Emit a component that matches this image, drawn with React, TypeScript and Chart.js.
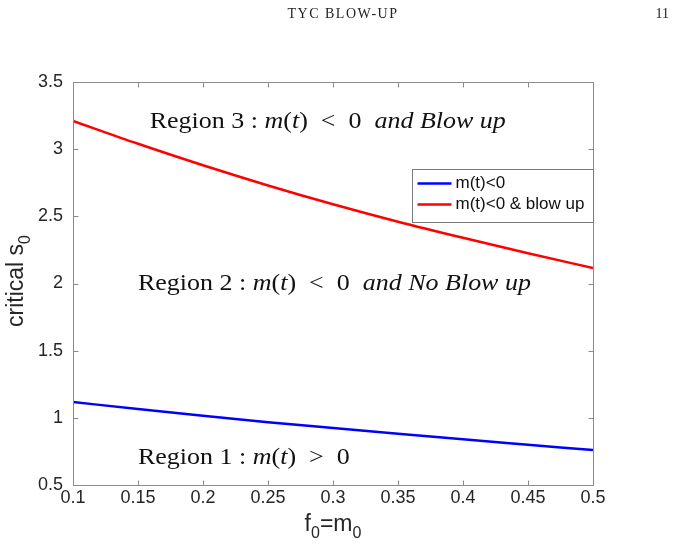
import React, { useEffect, useRef } from "react";
import { Chart, registerables } from "chart.js";

Chart.register(...registerables);

// Initial mass f0 = m0 sampled along the x axis
const f0Values = [0.1, 0.15, 0.2, 0.25, 0.3, 0.35, 0.4, 0.45, 0.5];
// Critical s0 above which m(t) becomes negative
const criticalNegative = [1.118, 1.065, 1.015, 0.968, 0.924, 0.881, 0.84, 0.8, 0.76];
// Critical s0 above which m(t) < 0 and the solution blows up
const criticalBlowUp = [3.21, 3.04, 2.88, 2.73, 2.59, 2.46, 2.34, 2.225, 2.115];

const xTicks = [0.1, 0.15, 0.2, 0.25, 0.3, 0.35, 0.4, 0.45, 0.5];
const yTicks = [0.5, 1, 1.5, 2, 2.5, 3, 3.5];

const seriesLabels = ["m(t)<0", "m(t)<0 & blow up"];
const seriesColors = ["#0000ff", "#ff0000"];

const runningHead = "TYC BLOW-UP";
const pageNumber = "11";

// Region annotations: anchor in data units, text as roman (r) / italic (i) runs
type Run = [string, "r" | "i"];
const regionLabels: { x: number; y: number; runs: Run[] }[] = [
  {
    x: 0.159,
    y: 3.2,
    runs: [["Region 3 : ", "r"], ["m", "i"], ["(", "r"], ["t", "i"], [")  <  0  ", "r"], ["and Blow up", "i"]],
  },
  {
    x: 0.15,
    y: 2.0,
    runs: [["Region 2 : ", "r"], ["m", "i"], ["(", "r"], ["t", "i"], [")  <  0  ", "r"], ["and No Blow up", "i"]],
  },
  {
    x: 0.15,
    y: 0.7,
    runs: [["Region 1 : ", "r"], ["m", "i"], ["(", "r"], ["t", "i"], [")  >  0", "r"]],
  },
];

const SANS = '"Liberation Sans", Arial, Helvetica, sans-serif';
const SERIF = '"Liberation Serif", "Times New Roman", serif';
const AXIS_GREY = "#8c8c8c";
const TEXT_DARK = "#262626";

// Serif annotation with mixed upright / italic runs, widened to a TeX-like set width
function drawRuns(ctx: CanvasRenderingContext2D, runs: Run[], x: number, y: number, size: number, stretch: number) {
  ctx.save();
  ctx.translate(x, y);
  ctx.scale(stretch, 1);
  let cx = 0;
  ctx.textAlign = "left";
  ctx.textBaseline = "middle";
  ctx.fillStyle = "#111";
  for (const [text, style] of runs) {
    ctx.font = `${style === "i" ? "italic " : ""}${size}px ${SERIF}`;
    ctx.fillText(text, cx, 0);
    cx += ctx.measureText(text).width;
  }
  ctx.restore();
}

// Centered text with lowered subscripts
function subText(
  ctx: CanvasRenderingContext2D,
  parts: [string, boolean][],
  cx: number,
  baseline: number,
  size: number,
  subSize: number,
  subDrop: number
) {
  const widths = parts.map(([t, sub]) => {
    ctx.font = `${sub ? subSize : size}px ${SANS}`;
    return ctx.measureText(t).width;
  });
  const total = widths.reduce((a, b) => a + b, 0);
  let x = cx - total / 2;
  ctx.textAlign = "left";
  ctx.textBaseline = "alphabetic";
  parts.forEach(([t, sub], i) => {
    ctx.font = `${sub ? subSize : size}px ${SANS}`;
    ctx.fillText(t, x, baseline + (sub ? subDrop : 0));
    x += widths[i];
  });
}

const decorations = {
  id: "decorations",
  afterDraw(chart: any) {
    const { ctx, chartArea: a, scales } = chart;
    const xs = scales.x;
    const ys = scales.y;
    ctx.save();

    // running head
    ctx.fillStyle = "#222";
    ctx.font = `14px ${SERIF}`;
    (ctx as any).letterSpacing = "1.5px";
    ctx.textAlign = "center";
    ctx.textBaseline = "alphabetic";
    ctx.fillText(runningHead, 343, 18);
    (ctx as any).letterSpacing = "0px";
    ctx.textAlign = "right";
    ctx.fillText(pageNumber, 669, 18);

    // axes box
    const L = Math.round(a.left) + 0.5;
    const R = Math.round(a.right) + 0.5;
    const T = Math.round(a.top) + 0.5;
    const B = Math.round(a.bottom) + 0.5;
    ctx.strokeStyle = AXIS_GREY;
    ctx.lineWidth = 1;
    ctx.strokeRect(L, T, R - L, B - T);

    // inward tick marks on all four sides
    const tl = 5;
    ctx.beginPath();
    for (const v of xTicks) {
      const px = Math.round(xs.getPixelForValue(v)) + 0.5;
      ctx.moveTo(px, B);
      ctx.lineTo(px, B - tl);
      ctx.moveTo(px, T);
      ctx.lineTo(px, T + tl);
    }
    for (const v of yTicks) {
      const py = Math.round(ys.getPixelForValue(v)) + 0.5;
      ctx.moveTo(L, py);
      ctx.lineTo(L + tl, py);
      ctx.moveTo(R, py);
      ctx.lineTo(R - tl, py);
    }
    ctx.stroke();

    // region annotations
    for (const r of regionLabels) {
      drawRuns(ctx, r.runs, xs.getPixelForValue(r.x), ys.getPixelForValue(r.y), 23, 1.13);
    }

    // axis titles
    ctx.fillStyle = TEXT_DARK;
    subText(ctx, [["f", false], ["0", true], ["=m", false], ["0", true]], (a.left + a.right) / 2, 531, 23, 16, 7);
    ctx.save();
    ctx.translate(23, 281);
    ctx.rotate(-Math.PI / 2);
    subText(ctx, [["critical s", false], ["0", true]], 0, 0, 23, 16, 7);
    ctx.restore();

    // legend
    const boxW = 181;
    const boxH = 53;
    const bx = Math.round(a.right) - boxW + 0.5;
    const by = Math.round(a.top) + 87.5;
    ctx.fillStyle = "#ffffff";
    ctx.fillRect(bx, by, boxW, boxH);
    ctx.strokeStyle = "#7a7a7a";
    ctx.lineWidth = 1;
    ctx.strokeRect(bx, by, boxW, boxH);
    ctx.font = `17px ${SANS}`;
    ctx.textBaseline = "middle";
    ctx.textAlign = "left";
    chart.data.datasets.forEach((ds: any, i: number) => {
      const ly = by + 14 + i * 21;
      ctx.strokeStyle = ds.borderColor;
      ctx.lineWidth = 2.5;
      ctx.beginPath();
      ctx.moveTo(bx + 5, ly);
      ctx.lineTo(bx + 39, ly);
      ctx.stroke();
      ctx.fillStyle = "#111";
      ctx.fillText(ds.label, bx + 43, ly);
    });

    ctx.restore();
  },
};

export default function App() {
  const canvasRef = useRef<HTMLCanvasElement | null>(null);

  useEffect(() => {
    const canvas = canvasRef.current;
    if (!canvas) return;
    const chart = new Chart(canvas, {
      type: "line",
      data: {
        datasets: [criticalNegative, criticalBlowUp].map((vals, i) => ({
          label: seriesLabels[i],
          data: f0Values.map((x, k) => ({ x, y: vals[k] })),
          borderColor: seriesColors[i],
          backgroundColor: seriesColors[i],
          borderWidth: 2.5,
          pointRadius: 0,
          cubicInterpolationMode: "monotone" as const,
          fill: false,
        })),
      },
      options: {
        responsive: false,
        animation: false,
        devicePixelRatio: 1,
        layout: { padding: { left: 0, top: 82, right: 93, bottom: 0 } },
        plugins: { legend: { display: false }, tooltip: { enabled: false } },
        scales: {
          x: {
            type: "linear",
            min: 0.1,
            max: 0.5,
            grid: { display: false, drawTicks: false },
            border: { display: false },
            afterBuildTicks: (s: any) => {
              s.ticks = xTicks.map((value) => ({ value }));
            },
            afterFit: (s: any) => {
              s.height = 67;
            },
            ticks: {
              padding: 2,
              color: TEXT_DARK,
              font: { family: SANS, size: 18 },
              maxRotation: 0,
              autoSkip: false,
              callback: (v: any) => String(v),
            },
          },
          y: {
            type: "linear",
            min: 0.5,
            max: 3.5,
            grid: { display: false, drawTicks: false },
            border: { display: false },
            afterBuildTicks: (s: any) => {
              s.ticks = yTicks.map((value) => ({ value }));
            },
            afterFit: (s: any) => {
              s.width = 73;
            },
            ticks: {
              padding: 10,
              color: TEXT_DARK,
              font: { family: SANS, size: 18 },
              autoSkip: false,
              callback: (v: any) => String(v),
            },
          },
        },
      },
      plugins: [decorations],
    });
    return () => chart.destroy();
  }, []);

  return (
    <div style={{ position: "fixed", left: 0, top: 0, width: 686, height: 552, background: "#fff" }}>
      <canvas ref={canvasRef} width={686} height={552} />
    </div>
  );
}
